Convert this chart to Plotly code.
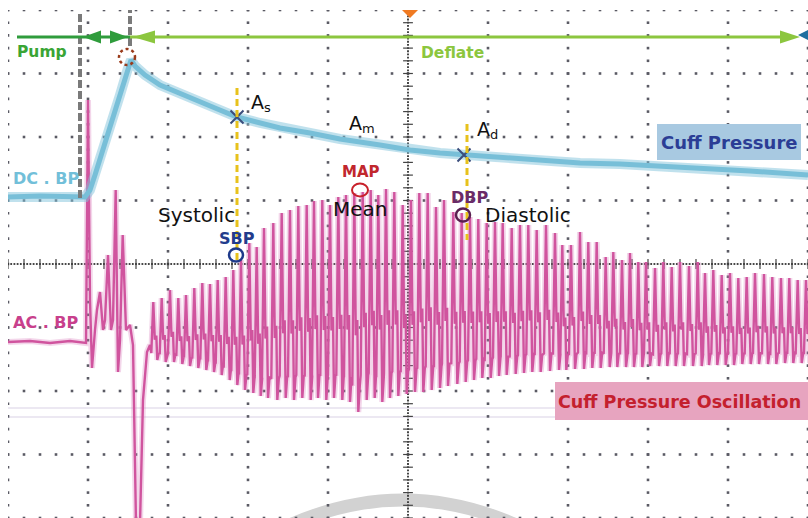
import numpy as np
import plotly.graph_objects as go

# ---------------- data (x: samples, 80 per division; y: counts, 63.5 per division) -------------
# DC channel: cuff pressure
dc_t = [0, 32, 77, 82, 87, 92, 102, 112, 120, 123, 127, 137, 152, 182, 207, 229, 252, 272, 302,
        332, 372, 402, 432, 459, 492, 532, 572, 612, 652, 692, 742, 800]
dc_v = [67, 68, 67, 74, 89, 104, 137, 169, 196, 204, 198, 189, 179, 166, 156, 147, 141, 136, 131,
        125, 119, 114, 111, 109, 106, 103, 101, 100, 98, 96, 93, 89]

# AC channel: lead-in (baseline, pump artefacts, deflation valve dip)
ac_t = [0, 22, 42, 62, 78, 80, 82, 84, 87, 89, 92, 95, 97, 100, 103, 105, 107.7, 110, 112, 114.7,
        118, 122, 125, 128, 132, 135, 139, 142]
ac_v = [-78, -77, -79, -77, -79, 164, -36, -104, -66, -46, -28, -66, -56, 9, -66, -56, 74, -108, -76, 29,
        -66, -61, -81, -260, -260, -136, -88, -81]

# AC channel: oscillation pulses (time of peak, peak level, trough level)
pulse_t = [145.3, 153.7, 162, 170.3, 178, 186.3, 194.3, 202, 209.7, 217.7, 225.3, 233, 241.3, 248.7,
           256, 265.3, 273.7, 282, 290.3, 298.7, 306, 314.3, 322, 330.3, 338, 346.3, 354.7, 362.7,
           370.3, 378, 386.3, 394.7, 403, 411.3, 419.7, 428, 436, 445.3, 453.7, 462, 470.3, 478.7,
           487, 494.7, 503.7, 512, 520.3, 528.7, 538, 547, 554.3, 563, 572, 580.3, 588.7, 597.7,
           605.3, 614, 622, 630.3, 638, 647, 655.3, 663.7, 672, 681, 689.7, 697, 705.3, 713.7,
           722, 730.3, 738.7, 747, 756, 764.3, 773, 781.3, 789.7, 798]
pulse_peak = [-38, -34, -26, -34, -31, -24, -19, -20, -16, -13, -6, 4, 21, 17,
              36, 41, 51, 54, 58, 59, 63, 64, 59, 67, 69, 71, 72, 74,
              69, 75, 72, 59, 64, 71, 71, 57, 64, 52, 51, 47, 45, 41,
              42, 41, 36, 39, 39, 34, 39, 31, 19, 19, 32, 22, 22, 7,
              12, 4, 11, 2, 2, -4, 2, -3, 2, -2, 2, -9, -6, -11,
              -9, -14, -13, -9, -10, -13, -14, -14, -16, -16]
pulse_trough = [-96, -98, -98, -100, -102, -104, -106, -108, -111, -116, -121, -126, -129, -132,
                -134, -136, -134, -136, -134, -136, -134, -136, -134, -136, -138, -148, -136, -134,
                -138, -134, -132, -130, -128, -128, -126, -124, -122, -120, -118, -116, -114, -114,
                -112, -111, -110, -109, -108, -108, -107, -106, -106, -105, -105, -104, -104, -103,
                -103, -103, -103, -103, -102, -102, -102, -102, -102, -102, -102, -101, -101, -101,
                -101, -100, -100, -100, -100, -100, -99, -99, -99, -99]

X_RANGE = [0, 800]
Y_RANGE = [-254, 254]
XDIV, YDIV = 80, 63.5

# ---------------- build AC waveform ----------------
wx, wy = list(ac_t), list(ac_v)
for t, p, tr in zip(pulse_t, pulse_peak, pulse_trough):
    a = p - tr
    base = tr + 0.12 * a
    wx += [t - 2, t, t + 1.5, t + 3, t + 4, t + 5.5]
    wy += [base, p, tr + 0.35 * a, tr + 0.42 * a, tr, base]

fig = go.Figure()

# ---------------- oscilloscope graticule ----------------
gx, gy = [], []
for k in range(11):
    xv = k * XDIV
    if abs(xv - 400) < 1:
        continue
    ys = np.arange(Y_RANGE[0], Y_RANGE[1] + 0.1, YDIV / 5)
    gx += [xv] * len(ys)
    gy += list(ys)
for k in range(9):
    yv = Y_RANGE[0] + k * YDIV
    if abs(yv) < 1:
        continue
    xs = np.arange(0, 800.1, XDIV / 5)
    gx += list(xs)
    gy += [yv] * len(xs)
fig.add_trace(go.Scatter(x=gx, y=gy, mode="markers", hoverinfo="skip",
                         marker=dict(size=2.6, color="#5a5a64", symbol="square")))
# centre axes (dense dotted with ticks)
cx = np.arange(0, 800.1, 3.2)
fig.add_trace(go.Scatter(x=cx, y=[0] * len(cx), mode="markers", hoverinfo="skip",
                         marker=dict(size=1.8, color="#333", symbol="square")))
cy = np.arange(Y_RANGE[0], Y_RANGE[1] + 0.1, 3.175)
fig.add_trace(go.Scatter(x=[400] * len(cy), y=cy, mode="markers", hoverinfo="skip",
                         marker=dict(size=1.8, color="#333", symbol="square")))
tx = np.arange(0, 800.1, XDIV / 5)
fig.add_trace(go.Scatter(x=tx, y=[0] * len(tx), mode="markers", hoverinfo="skip",
                         marker=dict(size=7, color="#444", symbol="line-ns",
                                     line=dict(width=1.2, color="#444"))))
ty = np.arange(Y_RANGE[0], Y_RANGE[1] + 0.1, YDIV / 5)
fig.add_trace(go.Scatter(x=[400] * len(ty), y=ty, mode="markers", hoverinfo="skip",
                         marker=dict(size=7, color="#444", symbol="line-ew",
                                     line=dict(width=1.2, color="#444"))))

# faint reference lines
for yv in (-144, -153):
    fig.add_shape(type="line", x0=0, x1=800, y0=yv, y1=yv, layer="below",
                  line=dict(color="#d9d2e6", width=1.2))

# watermark arc
fig.add_shape(type="path", path="M 245,-280 Q 395,-192 545,-280", layer="below",
              line=dict(color="#d2d2d2", width=13))

# ---------------- traces ----------------
fig.add_trace(go.Scatter(x=wx, y=wy, mode="lines", hoverinfo="skip",
                         line=dict(color="rgba(214,120,185,0.30)", width=6)))
fig.add_trace(go.Scatter(x=wx, y=wy, mode="lines", hoverinfo="skip",
                         line=dict(color="#d0549e", width=2.4)))
fig.add_trace(go.Scatter(x=dc_t, y=dc_v, mode="lines", hoverinfo="skip",
                         line=dict(color="rgba(130,195,220,0.5)", width=10)))
fig.add_trace(go.Scatter(x=dc_t, y=dc_v, mode="lines", hoverinfo="skip",
                         line=dict(color="#78bfd8", width=5)))

# cross markers As / Ad
fig.add_trace(go.Scatter(x=[229, 456], y=[147, 109], mode="markers", hoverinfo="skip",
                         marker=dict(symbol="x-thin", size=13, line=dict(width=2, color="#3b4d7c"))))

# ---------------- shapes ----------------
shapes = []
# gray dashed pump markers
shapes.append(dict(type="line", x0=72, x1=72, y0=250, y1=64,
                   line=dict(color="#7a7a7a", width=4, dash="8px,3px")))
shapes.append(dict(type="line", x0=122, x1=122, y0=259, y1=218,
                   line=dict(color="#7a7a7a", width=4, dash="8px,3px")))
# yellow dashed lines
shapes.append(dict(type="line", x0=229, x1=229, y0=176, y1=2,
                   line=dict(color="#e8c21c", width=3, dash="7px,4px")))
shapes.append(dict(type="line", x0=459, x1=459, y0=140, y1=24,
                   line=dict(color="#e8c21c", width=3, dash="7px,4px")))
# green arrow shafts
shapes.append(dict(type="line", x0=9, x1=72, y0=227, y1=227, line=dict(color="#2f9c3c", width=3)))
shapes.append(dict(type="line", x0=72, x1=122, y0=227, y1=227, line=dict(color="#2f9c3c", width=3)))
shapes.append(dict(type="line", x0=122, x1=780, y0=227, y1=227, line=dict(color="#8cc63f", width=3)))


def head(tip, base, y, h, color):
    return dict(type="path", path="M %g,%g L %g,%g L %g,%g Z" % (tip, y, base, y + h, base, y - h),
                line=dict(width=0), fillcolor=color)


shapes.append(head(75, 93, 227, 6.5, "#2f9c3c"))
shapes.append(head(120, 102, 227, 6.5, "#2f9c3c"))
shapes.append(head(125, 147, 227, 6.5, "#8cc63f"))
shapes.append(head(792, 772, 227, 6.5, "#8cc63f"))
shapes.append(head(790, 800, 229, 5, "#1f6fa0"))
shapes.append(dict(type="path", path="M 394,254 L 410,254 L 402,246 Z",
                   line=dict(width=0), fillcolor="#f07a22"))
# circles
shapes.append(dict(type="circle", x0=111, x1=127, y0=199, y1=215,
                   line=dict(color="#9a3b1b", width=2.5, dash="dot")))
shapes.append(dict(type="circle", x0=344, x1=360, y0=67.5, y1=80.5,
                   line=dict(color="#c8202a", width=2)))
shapes.append(dict(type="circle", x0=221, x1=235, y0=2.5, y1=15.5,
                   line=dict(color="#1e3a8a", width=2.5)))
shapes.append(dict(type="circle", x0=448, x1=462, y0=42.5, y1=55.5,
                   line=dict(color="#5a2050", width=2.5)))
# label boxes
shapes.append(dict(type="rect", x0=649, x1=793, y0=104, y1=140, line=dict(width=0),
                   fillcolor="#a8c9e1"))
shapes.append(dict(type="rect", x0=547, x1=802, y0=-156, y1=-118, line=dict(width=0),
                   fillcolor="#e7a4bf"))
for s in shapes:
    fig.add_shape(**s)

# ---------------- annotations ----------------
F = "DejaVu Sans"
ann = []


def txt(x, y, t, size, color, xanchor="center", bold=False):
    ann.append(dict(x=x, y=y, xref="x", yref="y", text=("<b>%s</b>" % t) if bold else t,
                    showarrow=False, xanchor=xanchor, yanchor="middle",
                    font=dict(family=F, size=size, color=color)))


txt(34, 212, "Pump", 15.5, "#3aa535", bold=True)
txt(444, 211, "Deflate", 15.5, "#8cc63e", bold=True)
txt(38, 86, "DC . BP", 16, "#72bfd9", bold=True)
txt(38, -58, "AC . BP", 16, "#c8408c", bold=True)
# amplitude markers: letter + subscript
for xa, ya, sub in ((241, 162, "s"), (339, 141, "m"), (467, 135, "d")):
    txt(xa, ya, "A", 19, "#111", xanchor="left")
    txt(xa + 13, ya - 5, sub, 13, "#111", xanchor="left")
txt(353, 92, "MAP", 15, "#c1272d", bold=True)
txt(352, 55, "Mean", 20, "#111")
txt(188, 49, "Systolic", 20, "#111")
txt(229, 26, "SBP", 16, "#223c8c", bold=True)
txt(461, 67, "DBP", 16, "#6b2b68", bold=True)
txt(475, 49, "Diastolic", 20, "#111", xanchor="left")
txt(721, 122, "Cuff Pressure", 18, "#2b3d95", bold=True)
txt(548, -138, "Cuff Pressure Oscillation", 17.5, "#c4202e", xanchor="left", bold=True)

fig.update_layout(
    width=808, height=518, autosize=False,
    margin=dict(l=8, r=0, t=10, b=0),
    paper_bgcolor="white", plot_bgcolor="white",
    showlegend=False,
    xaxis=dict(range=X_RANGE, visible=False, fixedrange=True),
    yaxis=dict(range=Y_RANGE, visible=False, fixedrange=True),
    annotations=ann,
)

fig.write_html("out.html")
